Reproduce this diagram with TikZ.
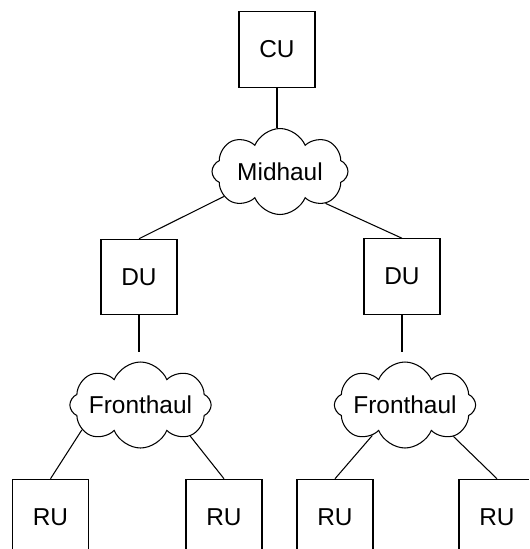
\documentclass[tikz,border=0pt]{standalone}
\usepackage{fontspec}
\setmainfont{Liberation Sans}
\usetikzlibrary{shapes.symbols}

\begin{document}
\begin{tikzpicture}[x=0.02cm, y=-0.02cm, line width=0.6pt,
	every node/.style={font=\fontsize{13.9}{16}\selectfont, inner sep=0pt},
	box/.style={rectangle, draw=black, minimum width=1.52cm, minimum height=1.51cm},
	net/.style={cloud, draw=black, cloud puffs=8, cloud puff arc=135, cloud ignores aspect, minimum width=2.72cm, minimum height=1.72cm},
	every edge/.style={draw=black, line width=0.6pt}]
			\useasboundingbox (0,0) rectangle (529,549);
			\clip (0,0) rectangle (529,549);
			
			\node[box] (cu) at (277,49.5){CU};
			\node[net] (mid) at (280,171.5){Midhaul};
			
			\node[box] (du1) at (139,277){DU};
			\node[box] (du2) at (402,276.5){DU};
			
			\node[net] (fh1) at (140.5,405){Fronthaul};
			\node[net] (fh2) at (405,405){Fronthaul};
			\coordinate (top1) at (139,352);
			\coordinate (top2) at (402,352);
			
			\node[box] (ru1) at (50.5,517){RU};
			\node[box] (ru2) at (224,517){RU};
			\node[box] (ru3) at (335,517){RU};
			\node[box] (ru4) at (497,517){RU};
			
			\path (cu.south) edge (cu.south |- mid.north);
			\path (du1.north) edge (mid.204);
			\path (du2.north) edge (mid.325);
			
			\path (du1.south) edge (top1);
			\path (du2.south) edge (top2);
			
			\path (ru1.north) edge (fh1.203);
			\path (ru2.north) edge (fh1.328);
			\path (ru3.north) edge (fh2.223);
			\path (ru4.north) edge (fh2.327);
			\end{tikzpicture}
\end{document}
